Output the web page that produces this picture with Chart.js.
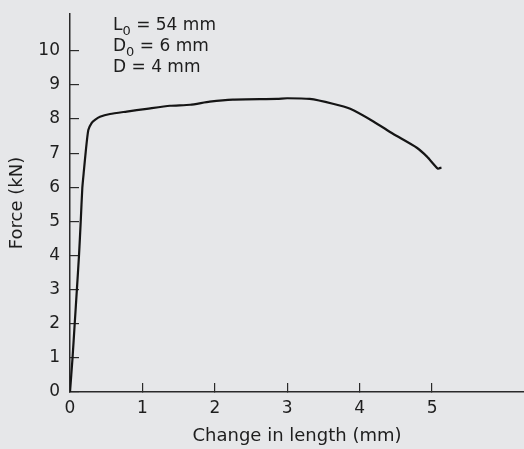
<!DOCTYPE html>
<html>
<head>
<meta charset="utf-8">
<script src="https://cdn.jsdelivr.net/npm/chart.js@4/dist/chart.umd.min.js"></script>
<style>
  html, body { margin: 0; padding: 0; background: #e6e7e9; }
  #wrap { width: 524px; height: 449px; position: relative; }
</style>
</head>
<body>
<div id="wrap"><canvas id="c"></canvas></div>
<script>
// Data (change in length in mm, force in kN)
const changeMm = [0, 0.035, 0.065, 0.095, 0.124, 0.148, 0.17, 0.193, 0.217, 0.253, 0.30, 0.345, 0.414, 0.552, 0.783, 1.06, 1.38, 1.66, 1.93, 2.25, 2.86, 3.0, 3.31, 3.63, 3.87, 4.19, 4.46, 4.79, 4.93, 5.08, 5.13];
const forceKn  = [0, 1.0, 2.0, 3.0, 3.99, 4.99, 5.98, 6.51, 7.04, 7.68, 7.89, 7.98, 8.07, 8.15, 8.22, 8.30, 8.39, 8.42, 8.51, 8.57, 8.59, 8.61, 8.59, 8.45, 8.30, 7.93, 7.57, 7.16, 6.90, 6.55, 6.58];
const xTickMax = 5;
const yTickMax = 10;
const annotationLines = [
  { main: 'L', sub: '0', rest: ' = 54 mm' },
  { main: 'D', sub: '0', rest: ' = 6 mm' },
  { main: 'D = 4 mm', sub: '', rest: '' }
];

const FONT = '"DejaVu Sans", "Liberation Sans", Arial, sans-serif';
const INK = '#1e1e1e';

const annotationPlugin = {
  id: 'annot',
  afterDraw(chart) {
    const { ctx, chartArea } = chart;
    ctx.save();
    ctx.fillStyle = INK;
    ctx.textBaseline = 'alphabetic';
    ctx.textAlign = 'left';
    const x0 = chartArea.left + 43;
    const baselines = [30, 51, 72];
    annotationLines.forEach((ln, i) => {
      let x = x0;
      const y = baselines[i];
      ctx.font = '17px ' + FONT;
      ctx.fillText(ln.main, x, y);
      x += ctx.measureText(ln.main).width;
      if (ln.sub) {
        ctx.font = '13px ' + FONT;
        ctx.fillText(ln.sub, x, y + 5);
        x += ctx.measureText(ln.sub).width;
      }
      if (ln.rest) {
        ctx.font = '17px ' + FONT;
        ctx.fillText(ln.rest, x, y);
      }
    });
    ctx.restore();
  }
};

const points = changeMm.map((x, i) => ({ x: x, y: forceKn[i] }));

new Chart(document.getElementById('c'), {
  type: 'line',
  data: {
    datasets: [{
      data: points,
      borderColor: '#151515',
      borderWidth: 2.2,
      pointRadius: 0,
      fill: false,
      tension: 0.2
    }]
  },
  options: {
    responsive: true,
    maintainAspectRatio: false,
    animation: false,
    layout: { padding: { top: 14, right: 0, left: 0, bottom: 0 } },
    plugins: { legend: { display: false }, tooltip: { enabled: false } },
    scales: {
      x: {
        type: 'linear',
        min: 0,
        max: 6.27,
        afterFit: s => { s.height = 57; s.paddingLeft = 0; s.paddingRight = 0; },
        border: { display: true, color: '#2a2a2a', width: 1.5 },
        grid: { drawOnChartArea: false, drawTicks: true, tickLength: -9, color: '#2a2a2a', lineWidth: 1.2 },
        ticks: {
          stepSize: 1,
          padding: 15,
          color: INK,
          font: { family: FONT, size: 17 },
          maxRotation: 0,
          callback: v => (v > xTickMax || v !== Math.round(v)) ? null : String(v)
        },
        title: {
          display: true,
          text: 'Change in length (mm)',
          color: INK,
          font: { family: FONT, size: 18 },
          padding: { top: 0, bottom: 2 }
        }
      },
      y: {
        type: 'linear',
        min: 0,
        max: 11.08,
        afterFit: s => { s.width = 70; s.paddingTop = 0; s.paddingBottom = 0; },
        border: { display: true, color: '#2a2a2a', width: 1.5 },
        grid: { drawOnChartArea: false, drawTicks: true, tickLength: -9, color: '#2a2a2a', lineWidth: 1.2 },
        ticks: {
          stepSize: 1,
          padding: 19,
          color: INK,
          font: { family: FONT, size: 17 },
          callback: v => (v > yTickMax || v !== Math.round(v)) ? null : String(v)
        },
        title: {
          display: true,
          text: 'Force (kN)',
          color: INK,
          font: { family: FONT, size: 18 },
          padding: { top: 7, bottom: 0 }
        }
      }
    }
  },
  plugins: [annotationPlugin]
});
</script>
</body>
</html>
